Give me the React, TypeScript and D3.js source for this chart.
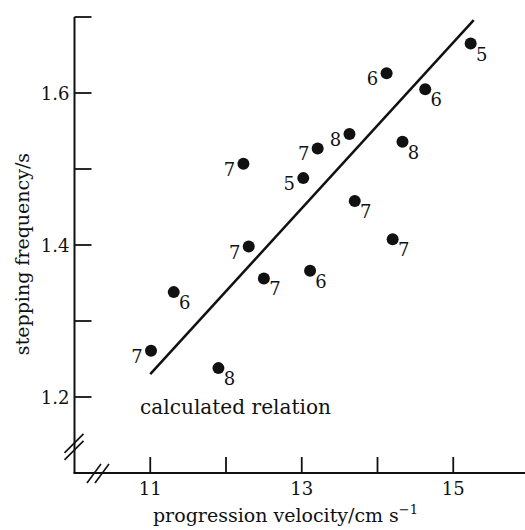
import React from "react";
import * as d3 from "d3";

// ---- data ----
const velocity = [15.23, 14.12, 14.63, 13.63, 13.21, 13.02, 14.33, 13.7, 14.2, 12.23, 12.3, 11.31, 11.01, 11.9, 12.5, 13.11];
const frequency = [1.665, 1.626, 1.605, 1.546, 1.527, 1.488, 1.536, 1.458, 1.4075, 1.507, 1.398, 1.338, 1.261, 1.238, 1.356, 1.366];
const counts = [5, 6, 6, 8, 7, 5, 8, 7, 7, 7, 7, 6, 7, 8, 7, 6];
const labelSide = ["r", "l", "r", "l", "l", "l", "r", "r", "r", "l", "l", "r", "l", "r", "r", "r"];

const fitVelocity = [11.0, 15.27];
const fitFrequency = [1.23, 1.696];

const xTicks = [11, 12, 13, 14, 15];
const xTickLabels = ["11", "", "13", "", "15"];
const yTicks = [1.2, 1.3, 1.4, 1.5, 1.6, 1.7];
const yTickLabels = ["1.2", "", "1.4", "", "1.6", ""];

const annotation = "calculated relation";
const xTitle = "progression velocity/cm s";
const yTitle = "stepping frequency/s";

const W = 525;
const H = 530;
const FONT = "'DejaVu Serif', serif";
const INK = "#111";

export default function App() {
  const x = d3.scaleLinear().domain([10, 16]).range([74.5, 529]);
  const y = d3.scaleLinear().domain([1.1, 1.7]).range([473, 17]);
  const x0 = x(10);
  const y0 = y(1.1);

  const fitLine = d3
    .line<number>()
    .x((_, i) => x(fitVelocity[i]))
    .y((_, i) => y(fitFrequency[i]));

  return (
    <svg
      width={W}
      height={H}
      viewBox={`0 0 ${W} ${H}`}
      style={{ position: "absolute", left: 0, top: 0, background: "#fff" }}
    >
      <rect width={W} height={H} fill="#fff" />
      {/* y axis */}
      <line x1={x0} x2={x0} y1={y(1.7)} y2={y0} stroke={INK} strokeWidth={2} />
      {yTicks.map((t, i) => (
        <g key={"yt" + i}>
          <line x1={x0} x2={x0 + 17} y1={y(t)} y2={y(t)} stroke={INK} strokeWidth={1.8} />
          {yTickLabels[i] && (
            <text
              x={x0 - 5}
              y={y(t) + 6.5}
              textAnchor="end"
              fontFamily={FONT}
              fontSize={18}
              fill={INK}
            >
              {yTickLabels[i]}
            </text>
          )}
        </g>
      ))}
      {/* x axis */}
      <line x1={x0 - 1} x2={W} y1={y0} y2={y0} stroke={INK} strokeWidth={2} />
      {xTicks.map((t, i) => (
        <g key={"xt" + i}>
          <line x1={x(t)} x2={x(t)} y1={y0} y2={y0 - 16} stroke={INK} strokeWidth={1.8} />
          {xTickLabels[i] && (
            <text
              x={x(t)}
              y={495}
              textAnchor="middle"
              fontFamily={FONT}
              fontSize={18}
              fill={INK}
            >
              {xTickLabels[i]}
            </text>
          )}
        </g>
      ))}
      {/* axis breaks */}
      {[-3.5, 3.5].map((d, i) => (
        <line
          key={"yb" + i}
          x1={x0 - 10}
          x2={x0 + 9}
          y1={y(1.135) + d + 10}
          y2={y(1.135) + d - 9}
          stroke={INK}
          strokeWidth={1.6}
        />
      ))}
      {[-4, 4].map((d, i) => (
        <line
          key={"xb" + i}
          x1={x(10.31) + d - 7}
          x2={x(10.31) + d + 7}
          y1={y0 + 10}
          y2={y0 - 9}
          stroke={INK}
          strokeWidth={1.6}
        />
      ))}
      {/* fitted relation */}
      <path d={fitLine(fitVelocity) || ""} fill="none" stroke={INK} strokeWidth={2.5} />
      {/* points */}
      {velocity.map((v, i) => {
        const cx = x(v);
        const cy = y(frequency[i]);
        const left = labelSide[i] === "l";
        return (
          <g key={"p" + i}>
            <circle cx={cx} cy={cy} r={6} fill={INK} />
            <text
              x={left ? cx - 14 : cx + 11}
              y={left ? cy + 12 : cy + 17}
              textAnchor="middle"
              fontFamily={FONT}
              fontSize={18}
              fill={INK}
            >
              {counts[i]}
            </text>
          </g>
        );
      })}
      {/* annotation */}
      <text
        x={140}
        y={414}
        fontFamily={FONT}
        fontSize={20}
        fill={INK}
        textLength={191}
        lengthAdjust="spacingAndGlyphs"
      >
        {annotation}
      </text>
      {/* axis titles */}
      <text
        x={285.5}
        y={522}
        textAnchor="middle"
        fontFamily={FONT}
        fontSize={19}
        fill={INK}
      >
        {xTitle}
        <tspan fontSize={13} dy={-8}>
          {"\u22121"}
        </tspan>
      </text>
      <text
        transform={`translate(29,254) rotate(-90)`}
        textAnchor="middle"
        fontFamily={FONT}
        fontSize={19}
        fill={INK}
      >
        {yTitle}
      </text>
    </svg>
  );
}
